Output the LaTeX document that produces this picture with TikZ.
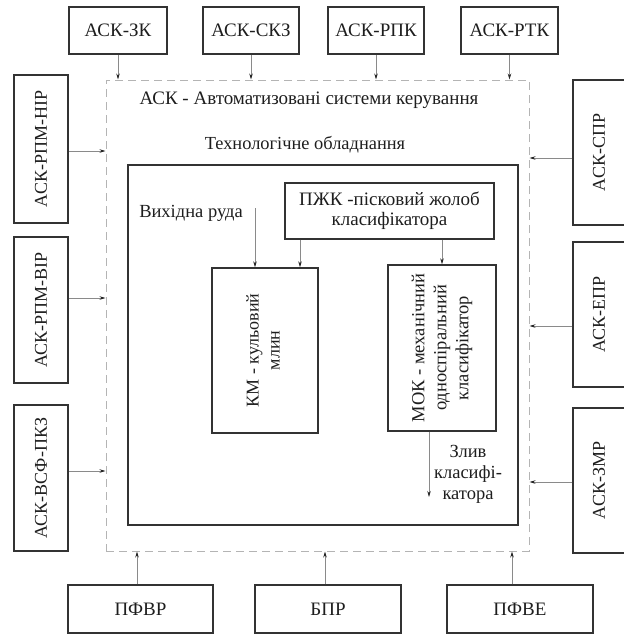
\documentclass[tikz,border=0pt]{standalone}
\usepackage{fontspec}
\setmainfont{Liberation Serif}
\usetikzlibrary{arrows.meta}
\definecolor{boxc}{HTML}{333333}
\definecolor{txtc}{HTML}{1E1E1E}
\definecolor{dashc}{HTML}{B4B4B4}
\definecolor{linec}{HTML}{8A8A8A}
\tikzset{
  box/.style={draw=boxc, line width=1.5pt, inner sep=0pt, text=txtc, align=center,
    font=\fontsize{19}{22}\selectfont},
  sidebox/.style={box, font=\fontsize{18}{22}\selectfont},
  bigbox/.style={draw=boxc, line width=2pt, inner sep=0pt},
  dashbox/.style={draw=dashc, line width=1pt, dash pattern=on 8pt off 5pt, inner sep=0pt},
  lbl/.style={text=txtc, inner sep=0pt, align=center},
  arr/.style={draw=linec, line width=0.7pt, -{Stealth[length=6pt,width=3.5pt,color=black!85]}}
}
\begin{document}
\begin{tikzpicture}[x=1pt,y=-1pt]
\useasboundingbox (0,0) rectangle (624,635);
% dashed outer system box
\node[dashbox, minimum width=423pt, minimum height=471pt] (ask) at (317.5,315.5) {};
% inner technological equipment box
\node[bigbox, minimum width=390pt, minimum height=360pt] (tech) at (323,345) {};
% titles
\node[lbl, font=\fontsize{19}{22}\selectfont] (asktitle) at (309,100) {АСК - Автоматизовані системи керування};
\node[lbl, font=\fontsize{18.4}{22}\selectfont] (techtitle) at (305,145) {Технологічне обладнання};
% top boxes
\node[box, minimum width=98pt, minimum height=47pt] (zk) at (118,30.5) {АСК-ЗК};
\node[box, minimum width=96pt, minimum height=47pt] (skz) at (251,30.5) {АСК-СКЗ};
\node[box, minimum width=96pt, minimum height=47pt] (rpk) at (376,30.5) {АСК-РПК};
\node[box, minimum width=97pt, minimum height=47pt] (rtk) at (509.5,30.5) {АСК-РТК};
% left boxes
\node[sidebox, minimum width=54pt, minimum height=148pt] (nir) at (41,149) {\rotatebox{90}{АСК-РПМ-НІР}};
\node[sidebox, minimum width=54pt, minimum height=146pt] (vir) at (41,310) {\rotatebox{90}{АСК-РПМ-ВІР}};
\node[sidebox, minimum width=54pt, minimum height=146pt] (pkz) at (41,478) {\rotatebox{90}{АСК-ВСФ-ПКЗ}};
% right boxes (cut by the right edge)
\node[sidebox, minimum width=57pt, minimum height=145pt] (spr) at (601.5,152.5) {\hspace*{-5pt}\rotatebox{90}{АСК-СПР}};
\node[sidebox, minimum width=57pt, minimum height=145pt] (epr) at (601.5,314.5) {\hspace*{-5pt}\rotatebox{90}{АСК-ЕПР}};
\node[sidebox, minimum width=57pt, minimum height=145pt] (zmr) at (601.5,480.5) {\hspace*{-5pt}\rotatebox{90}{АСК-ЗМР}};
% bottom boxes
\node[box, minimum width=145pt, minimum height=48pt] (pfvr) at (140.5,609) {ПФВР};
\node[box, minimum width=146pt, minimum height=48pt] (bpr) at (328,609) {БПР};
\node[box, minimum width=146pt, minimum height=48pt] (pfve) at (520,609) {ПФВЕ};
% inner equipment
\node[box, line width=1.4pt, minimum width=209pt, minimum height=56pt,
  font=\fontsize{19}{20}\selectfont] (pzhk) at (389.5,211) {ПЖК -пісковий жолоб\\класифікатора};
\node[box, line width=1.4pt, minimum width=106pt, minimum height=165pt,
  font=\fontsize{18}{21}\selectfont] (km) at (265,350.5) {\rotatebox{90}{\begin{tabular}{@{}c@{}}КМ - кульовий\\млин\end{tabular}}};
\node[box, line width=1.4pt, minimum width=108pt, minimum height=166pt,
  font=\fontsize{18.5}{22}\selectfont] (mok) at (442,348) {\rotatebox{90}{\begin{tabular}{@{}c@{}}МОК - механічний\\односпіральний\\класифікатор\end{tabular}}};
\node[lbl, font=\fontsize{18.5}{20}\selectfont] (ruda) at (191,213) {Вихідна руда};
\node[lbl, font=\fontsize{18.5}{21}\selectfont] (zliv) at (468,474) {Злив\\класифі-\\катора};
\coordinate (rudastart) at (255,208);
\coordinate (zlivend) at (429,497);
% connectors top
\draw[arr] (zk.south) -- (zk.south |- ask.north);
\draw[arr] (skz.south) -- (skz.south |- ask.north);
\draw[arr] (rpk.south) -- (rpk.south |- ask.north);
\draw[arr] (rtk.south) -- (rtk.south |- ask.north);
% left connectors
\draw[arr] ([yshift=-2pt]nir.east) -- ([yshift=-2pt]nir.east -| ask.west);
\draw[arr] ([yshift=12pt]vir.east) -- ([yshift=12pt]vir.east -| ask.west);
\draw[arr] ([yshift=7pt]pkz.east) -- ([yshift=7pt]pkz.east -| ask.west);
% right connectors
\draw[arr] ([yshift=-5.5pt]spr.west) -- ([yshift=-5.5pt]spr.west -| ask.east);
\draw[arr] ([yshift=-11.5pt]epr.west) -- ([yshift=-11.5pt]epr.west -| ask.east);
\draw[arr] ([yshift=-1.5pt]zmr.west) -- ([yshift=-1.5pt]zmr.west -| ask.east);
% bottom connectors
\draw[arr] ([xshift=-3.5pt]pfvr.north) -- ([xshift=-3.5pt]pfvr.north |- ask.south);
\draw[arr] ([xshift=-3pt]bpr.north) -- ([xshift=-3pt]bpr.north |- ask.south);
\draw[arr] ([xshift=-8pt]pfve.north) -- ([xshift=-8pt]pfve.north |- ask.south);
% inner connectors
\draw[arr] (rudastart) -- (rudastart |- km.north);
\draw[arr] (300,0 |- pzhk.south) -- (300,0 |- km.north);
\draw[arr] (mok.north |- pzhk.south) -- (mok.north);
\draw[arr] (zlivend |- mok.south) -- (zlivend);
\end{tikzpicture}
\end{document}
